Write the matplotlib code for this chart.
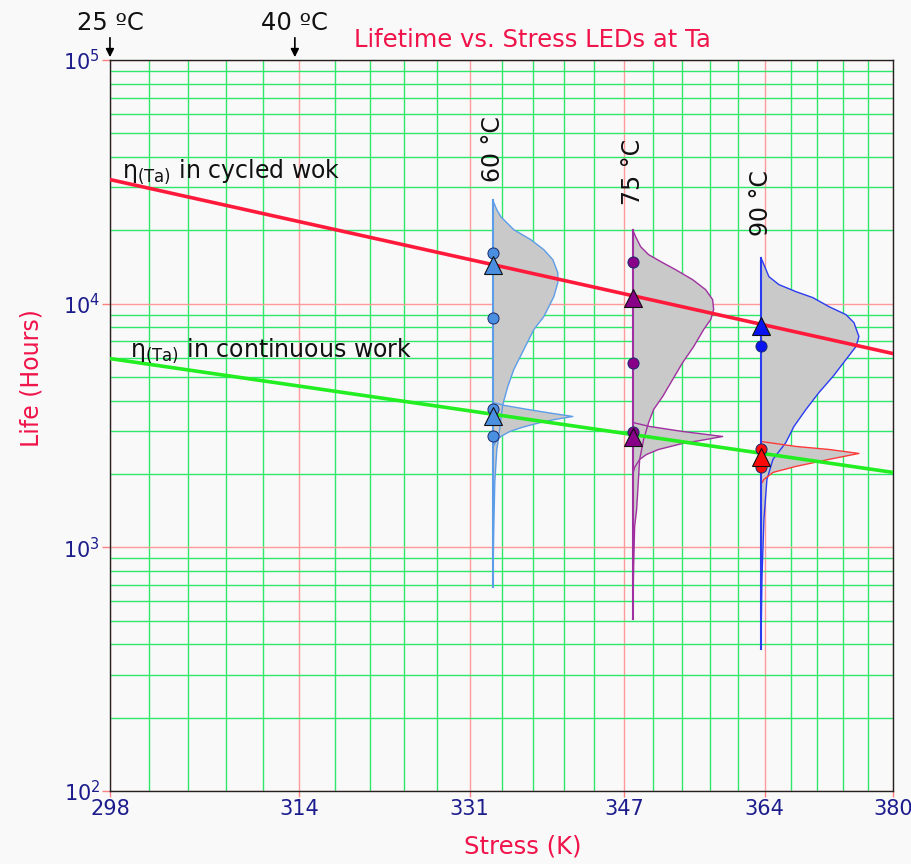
import numpy as np
import matplotlib.pyplot as plt
from matplotlib.ticker import FixedLocator, LogLocator, NullFormatter

# x axis (Kelvin, Arrhenius scale)
x_major = [298, 314.4, 330.8, 347.2, 363.6, 380]
x_labels = ["298", "314", "331", "347", "364", "380"]

# life lines, hours at both ends of the axis
line_temp = [298, 380]
cycled_life = [32300, 6240]
continuous_life = [5950, 2030]

# test temperatures
temps = [333.15, 348.15, 363.15]
temp_labels = ["60 °C", "75 °C", "90 °C"]
temp_label_life = [31600, 25500, 19000]

# failure points and characteristic life per temperature
cycled_points = [[16200, 8770], [14860, 5730], [6730]]
cycled_eta = [14450, 10580, 8125]
cont_points = [[3680, 2875], [2960], [2521, 2128]]
cont_eta = [3443, 2823, 2338]

# pdf outlines: life (h) and relative density
pdf60_cyc_life = [26680, 25940, 24280, 22730, 21080, 20110, 18300, 16650, 15150, 13400, 12190, 10680,
                  8845, 7824, 6478, 5364, 4569, 3856, 3346, 2850, 2521, 1847, 1219, 686]
pdf60_cyc_dens = [0, .01, .04, .08, .16, .21, .38, .51, .60, .65, .65, .61,
                  .51, .41, .31, .21, .15, .10, .08, .06, .04, .02, .01, 0]
pdf60_cont_life = [3929, 3820, 3679, 3542, 3443, 3346, 3284, 3192, 3103, 2988, 2850, 2719, 2569]
pdf60_cont_dens = [0, .12, .35, .60, .80, .62, .52, .40, .29, .17, .08, .03, 0]

pdf75_cyc_life = [20110, 18820, 17130, 15880, 14730, 13780, 12540, 11410, 10380, 9450, 8598, 7824, 6664,
                  5730, 4882, 4157, 3679, 3253, 2771, 2295, 1954, 1431, 1219, 836, 507]
pdf75_cyc_dens = [0, .03, .08, .16, .30, .43, .60, .73, .80, .81, .78, .71, .61,
                  .50, .40, .30, .21, .16, .11, .07, .06, .04, .02, .01, 0]
pdf75_cont_life = [3253, 3133, 2988, 2850, 2745, 2669, 2521, 2406, 2295, 2128, 1992]
pdf75_cont_dens = [0, .17, .50, .90, .68, .50, .26, .14, .07, .02, 0]

pdf90_cyc_life = [15440, 14450, 12900, 11970, 11200, 10580, 9721, 9014, 8357, 7323, 6664, 5894, 5022,
                  4317, 3679, 3133, 2694, 2295, 1900, 1302, 740, 382]
pdf90_cyc_dens = [0, .03, .08, .18, .35, .52, .68, .85, .93, .98, .95, .85, .72,
                  .58, .45, .33, .25, .12, .06, .03, .01, 0]
pdf90_cont_life = [2719, 2594, 2521, 2428, 2295, 2148, 2029, 1900, 1812]
pdf90_cont_dens = [0, .35, .68, .98, .68, .35, .12, .03, 0]

pdfs_cyc = [(pdf60_cyc_life, pdf60_cyc_dens), (pdf75_cyc_life, pdf75_cyc_dens), (pdf90_cyc_life, pdf90_cyc_dens)]
pdfs_cont = [(pdf60_cont_life, pdf60_cont_dens), (pdf75_cont_life, pdf75_cont_dens),
             (pdf90_cont_life, pdf90_cont_dens)]

cyc_fill = ["#4a8fe0", "#870087", "#0a14f0"]
cont_fill = ["#4a8fe0", "#870087", "#ff0a0a"]
cyc_edge = ["#5d9de8", "#a030a0", "#2a3cf0"]
cont_edge = ["#5d9de8", "#a030a0", "#ff3a3a"]

NAVY = "#1c1c8c"
TITLE_RED = "#f0144a"
BG = "#f9f9f9"
DENS_SCALE = 9.25e-5  # 1/K per density unit


def fwd(t):
    with np.errstate(divide="ignore"):
        return -1.0 / np.asarray(t, dtype=float)


def inv(u):
    with np.errstate(divide="ignore"):
        return -1.0 / np.asarray(u, dtype=float)


def draw_pdf(ax, t0, life, dens, edge):
    life = np.asarray(life, dtype=float)
    dens = np.asarray(dens, dtype=float)
    t_edge = 1.0 / (1.0 / t0 - dens * DENS_SCALE)
    ax.fill_betweenx(life, t0, t_edge, facecolor="#c9c9c9", edgecolor="none", zorder=2)
    ax.plot(t_edge, life, color=edge, lw=1.0, zorder=2.5)


fig = plt.figure(figsize=(9.11, 8.64), dpi=100, facecolor=BG)
ax = fig.add_axes([0.1207, 0.0845, 0.8595, 0.8461], facecolor=BG)

ax.set_xscale("function", functions=(fwd, inv))
ax.set_yscale("log")
ax.set_xlim(298, 380)
ax.set_ylim(100, 1e5)

ax.xaxis.set_major_locator(FixedLocator(x_major))
ax.set_xticklabels(x_labels)
minor_x = [298 + 3.28 * k for k in range(26) if k % 5]
ax.xaxis.set_minor_locator(FixedLocator(minor_x))
ax.xaxis.set_minor_formatter(NullFormatter())
ax.yaxis.set_minor_locator(LogLocator(base=10, subs=np.arange(2, 10)))
ax.yaxis.set_minor_formatter(NullFormatter())

ax.set_axisbelow(True)
ax.grid(which="major", color="#ff9a9a", lw=1.0)
ax.grid(which="minor", color="#2ee86a", lw=1.0)
ax.tick_params(which="major", direction="out", color="#ff8080", length=6, width=1,
               labelcolor=NAVY, labelsize=15)
ax.tick_params(axis="x", which="major", length=4, pad=2)
ax.tick_params(axis="y", which="major", pad=1)
ax.tick_params(which="minor", length=0)
for s in ax.spines.values():
    s.set_color("#222222")
    s.set_linewidth(1.0)

# distributions
for t0, (cl, cd), (ll, ld), ce, le in zip(temps, pdfs_cyc, pdfs_cont, cyc_edge, cont_edge):
    draw_pdf(ax, t0, cl, cd, ce)
    draw_pdf(ax, t0, ll, ld, le)
    ax.plot([t0, t0], [min(cl), max(cl)], color=ce, lw=1.5, zorder=2.6)

# life lines
ax.plot(line_temp, cycled_life, color="#ff1a3c", lw=2.6, zorder=3)
ax.plot(line_temp, continuous_life, color="#22ee22", lw=2.6, zorder=3)

# points
for t0, pts, eta, col in zip(temps, cycled_points, cycled_eta, cyc_fill):
    ax.plot([t0] * len(pts), pts, "o", ms=8, mfc=col, mec="#1a2a6a", mew=0.7, zorder=5)
    ax.plot(t0, eta, "^", ms=13, mfc=col, mec="#111111", mew=0.8, zorder=6)
for t0, pts, eta, col in zip(temps, cont_points, cont_eta, cont_fill):
    ax.plot([t0] * len(pts), pts, "o", ms=8, mfc=col, mec="#1a2a6a", mew=0.7, zorder=5)
    ax.plot(t0, eta, "^", ms=13, mfc=col, mec="#111111", mew=0.8, zorder=6)

# temperature labels above each distribution
for t0, lab, lv in zip(temps, temp_labels, temp_label_life):
    ax.text(t0, lv, lab, rotation=90, ha="center", va="bottom", fontsize=17, color="#111111")

# ambient temperature arrows
for t, lab in [(298, "25 ºC"), (314, "40 ºC")]:
    ax.annotate(lab, xy=(t, 1.0), xycoords=("data", "axes fraction"),
                xytext=(0, 18), textcoords="offset points", ha="center", va="bottom",
                fontsize=17.5, color="#111111", annotation_clip=False,
                arrowprops=dict(arrowstyle="-|>", color="black", lw=1.2, shrinkA=0, shrinkB=2,
                                mutation_scale=12))

ax.text(0.0153, 0.8386, "η$_{\\mathrm{(Ta)}}$ in cycled wok", transform=ax.transAxes,
        fontsize=17, color="#111111", va="baseline", ha="left")
ax.text(0.0255, 0.5937, "η$_{\\mathrm{(Ta)}}$ in continuous work", transform=ax.transAxes,
        fontsize=17, color="#111111", va="baseline", ha="left")

fig.text(0.585, 0.954, "Lifetime vs. Stress LEDs at Ta", color=TITLE_RED, fontsize=17.5,
         ha="center", va="center")
fig.text(0.574, 0.0197, "Stress (K)", color=TITLE_RED, fontsize=17.5, ha="center", va="center")
fig.text(0.035, 0.5625, "Life (Hours)", color=TITLE_RED, fontsize=17, ha="center", va="center",
         rotation=90)

fig.savefig("out.png", dpi=100, facecolor=BG)
